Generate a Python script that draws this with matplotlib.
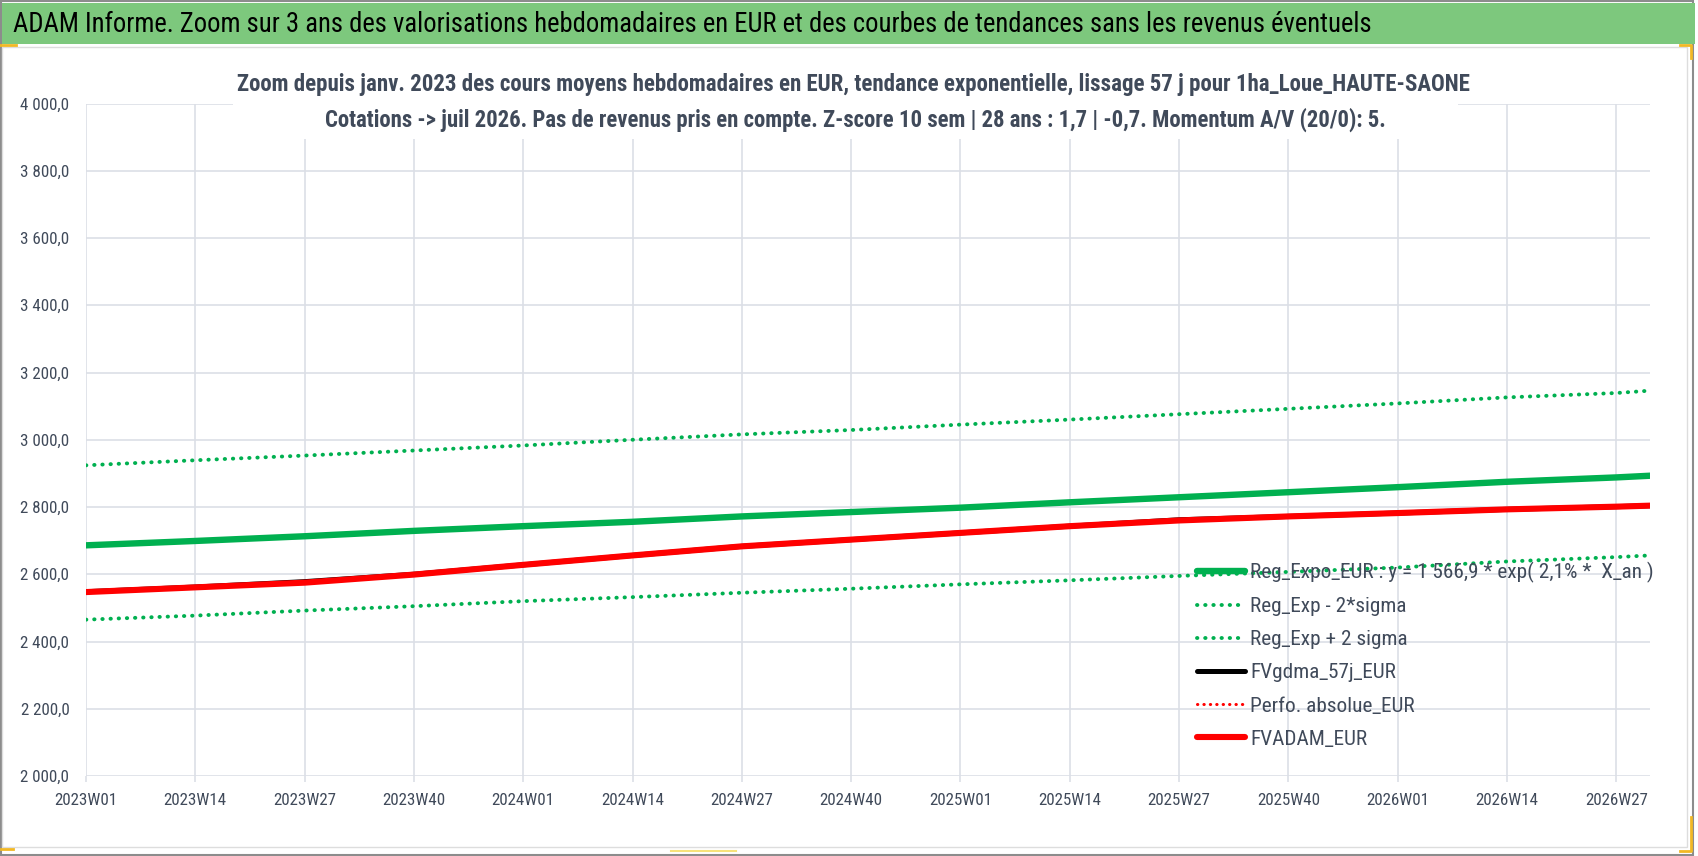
import matplotlib
matplotlib.use("Agg")
import matplotlib.pyplot as plt
from matplotlib import font_manager
from matplotlib.ticker import FuncFormatter, FixedLocator
from matplotlib.patches import Rectangle
from matplotlib.lines import Line2D

# pick a narrow font if one is installed
_names = {f.name for f in font_manager.fontManager.ttflist}
_fam = 'Liberation Sans'
for cand in ['Liberation Sans Narrow', 'Roboto Condensed', 'DejaVu Sans Condensed',
             'Open Sans Condensed', 'Noto Sans Condensed', 'Roboto']:
    if cand in _names:
        _fam = cand
        break
plt.rcParams['font.family'] = [_fam, 'DejaVu Sans']

# ---------------- data ----------------
weeks = [0, 13, 26, 39, 52, 65, 78, 91, 104, 117, 130, 143, 156, 169, 182, 186]
reg_expo = [2686, 2699, 2713, 2729, 2743, 2756, 2772, 2785, 2798, 2814, 2829, 2844, 2859, 2875, 2888, 2893]
reg_minus = [2465, 2477, 2492, 2505, 2520, 2532, 2545, 2557, 2570, 2582, 2595, 2607, 2620, 2638, 2651, 2656]
reg_plus = [2924, 2939, 2953, 2968, 2983, 3000, 3016, 3029, 3045, 3060, 3076, 3092, 3108, 3126, 3139, 3146]
fvgdma = [2548, 2562, 2578, 2600, 2628, 2656, 2683, 2703, 2723, 2743, 2762, 2772, 2782, 2793, 2801, 2804]
perfo_abs = [2547, 2561, 2575, 2599, 2628, 2656, 2683, 2703, 2723, 2743, 2760, 2772, 2782, 2793, 2801, 2804]
fvadam = [2547, 2561, 2575, 2599, 2628, 2656, 2683, 2703, 2723, 2743, 2760, 2772, 2782, 2793, 2801, 2804]

tick_pos = [0, 13, 26, 39, 52, 65, 78, 91, 104, 117, 130, 143, 156, 169, 182]
tick_labels = ['2023W01', '2023W14', '2023W27', '2023W40', '2024W01', '2024W14', '2024W27',
               '2024W40', '2025W01', '2025W14', '2025W27', '2025W40', '2026W01', '2026W14', '2026W27']
y_ticks = [2000, 2200, 2400, 2600, 2800, 3000, 3200, 3400, 3600, 3800, 4000]

labels = ['Reg_Expo_EUR : y = 1 566,9 * exp( 2,1% *  X_an )', 'Reg_Exp - 2*sigma',
          'Reg_Exp + 2 sigma', 'FVgdma_57j_EUR', 'Perfo. absolue_EUR', 'FVADAM_EUR']

main_title = "ADAM Informe. Zoom sur 3 ans des valorisations hebdomadaires en EUR et des courbes de tendances sans les revenus éventuels"
sub1 = "Zoom depuis janv. 2023 des cours moyens hebdomadaires en EUR, tendance exponentielle, lissage 57 j pour 1ha_Loue_HAUTE-SAONE"
sub2 = "Cotations -> juil 2026. Pas de revenus pris en compte. Z-score 10 sem | 28 ans : 1,7 | -0,7. Momentum A/V (20/0): 5."

# ---------------- figure ----------------
W, H = 1698, 856
fig = plt.figure(figsize=(W / 100, H / 100), dpi=100)
fig.patch.set_facecolor('white')

def fx(px):
    return px / W

def fy(py):
    return 1 - py / H

_r = fig.canvas.get_renderer()
def fit_size(sample, target_px, cap, weight='normal'):
    t = fig.text(0, 0, sample, fontsize=10, fontweight=weight)
    w = t.get_window_extent(_r).width
    t.remove()
    return min(cap, 10 * target_px / w)

GREEN = '#00B050'
GRID = '#DCDFE6'
TXT = '#404A5A'

fs_tick = fit_size('2023W01', 63, 13.5)
fs_leg = fit_size('Reg_Expo_EUR : y = 1 566,9 * exp( 2,1% *  X_an )', 400, 16)

ax = fig.add_axes([fx(86), fy(776), fx(1650) - fx(86), fy(103.5) - fy(776)])
ax.set_facecolor('none')

dot = (0, (0.1, 2.0))
l_plus, = ax.plot(weeks, reg_plus, color=GREEN, lw=2.8, linestyle=dot, dash_capstyle='round', zorder=3)
l_minus, = ax.plot(weeks, reg_minus, color=GREEN, lw=2.8, linestyle=dot, dash_capstyle='round', zorder=3)
l_expo, = ax.plot(weeks, reg_expo, color=GREEN, lw=4.6, solid_capstyle='round', zorder=4)
l_gdma, = ax.plot(weeks, fvgdma, color='black', lw=3.6, solid_capstyle='round', zorder=5)
l_perfo, = ax.plot(weeks, perfo_abs, color='#FF0000', lw=2.2, linestyle=dot, dash_capstyle='round', zorder=5)
l_adam, = ax.plot(weeks, fvadam, color='#FF0000', lw=4.4, solid_capstyle='round', zorder=6)

ax.set_xlim(0, 186)
ax.set_ylim(2000, 4000)
ax.xaxis.set_major_locator(FixedLocator(tick_pos))
ax.set_xticklabels(tick_labels)
ax.yaxis.set_major_locator(FixedLocator(y_ticks))
ax.yaxis.set_major_formatter(FuncFormatter(lambda v, p: f"{v:,.1f}".replace(',', ' ').replace('.', ',')))
ax.grid(True, color=GRID, lw=1.2, zorder=0)
ax.set_axisbelow(True)
for s in ax.spines.values():
    s.set_visible(False)
ax.tick_params(axis='x', length=4, width=1.2, color=GRID, pad=8, labelsize=fs_tick, labelcolor=TXT)
ax.tick_params(axis='y', length=0, pad=12, labelsize=fs_tick, labelcolor=TXT)

leg_px = fs_leg * 100 / 72
h_txt = 1.02 * leg_px
leg = ax.legend([l_expo, l_minus, l_plus, l_gdma, l_perfo, l_adam], labels,
                loc='upper left', bbox_to_anchor=(fx(1197), fy(573 - h_txt / 2)), bbox_transform=fig.transFigure,
                frameon=False, borderpad=0, borderaxespad=0, handlelength=48 / leg_px,
                handletextpad=5 / leg_px, labelspacing=(35.7 - h_txt) / leg_px,
                fontsize=fs_leg, labelcolor=TXT)
leg.set_zorder(8)

# ---------------- decorations ----------------
fig.add_artist(Rectangle((fx(1), fy(855)), fx(1692), fy(1) - fy(855), transform=fig.transFigure,
                         fill=False, edgecolor='#8C8C8C', lw=1.5, zorder=1))
fig.add_artist(Rectangle((fx(2), fy(847)), fx(1685), fy(47) - fy(847), transform=fig.transFigure,
                         fill=False, edgecolor='#DDDDDD', lw=1.0, zorder=1))
fig.add_artist(Rectangle((fx(2), fy(44)), fx(1693), fy(2.5) - fy(44), transform=fig.transFigure,
                         facecolor='#7DC87D', edgecolor='none', zorder=2))
fig.add_artist(Rectangle((fx(233), fy(139)), fx(1458) - fx(233), fy(62) - fy(139), transform=fig.transFigure,
                         facecolor='white', edgecolor='none', zorder=9))
ORANGE = '#F2B824'
fig.add_artist(Line2D([fx(0), fx(16)], [fy(45), fy(45)], color=ORANGE, lw=2, transform=fig.transFigure))
fig.add_artist(Line2D([fx(1680), fx(1691), fx(1691)], [fy(45), fy(45), fy(58)], color=ORANGE, lw=2, transform=fig.transFigure))
fig.add_artist(Line2D([fx(1691), fx(1691), fx(1680)], [fy(817), fy(851), fy(851)], color=ORANGE, lw=2, transform=fig.transFigure))
fig.add_artist(Line2D([fx(1), fx(13)], [fy(849), fy(849)], color=ORANGE, lw=2, transform=fig.transFigure))
fig.add_artist(Line2D([fx(671), fx(736)], [fy(851), fy(851)], color='#F7E27A', lw=1.5, transform=fig.transFigure))

fs_main = fit_size(main_title, 1349, 24)
fs_s1 = fit_size(sub1, 1234, 20, 'bold')
fs_s2 = fit_size(sub2, 1064, 20, 'bold')
fig.text(fx(13), fy(24), main_title, ha='left', va='center', fontsize=fs_main, color='black', zorder=10)
fig.text(fx(853), fy(84.5), sub1, ha='center', va='center', fontsize=fs_s1, fontweight='bold', color=TXT, zorder=10)
fig.text(fx(855), fy(120), sub2, ha='center', va='center', fontsize=fs_s2, fontweight='bold', color=TXT, zorder=10)

fig.savefig('out.png', dpi=100, facecolor='white')
